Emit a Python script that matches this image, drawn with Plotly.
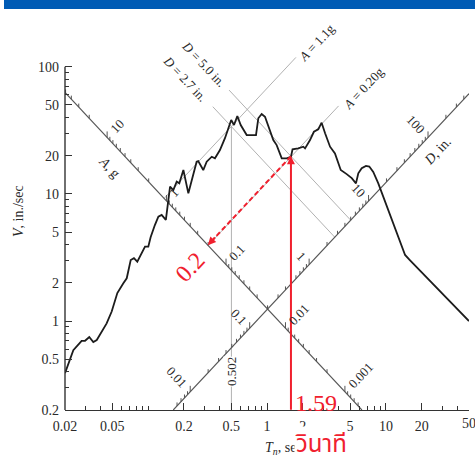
import numpy as np
import plotly.graph_objects as go

G_IN = 386.1          # g in in/s^2
TP = 2 * np.pi

# ---------------- data ----------------
T_curve = [0.02, 0.0235, 0.0276, 0.0295, 0.032, 0.0346, 0.037, 0.040, 0.0448, 0.0494,
           0.0551, 0.0619, 0.0661, 0.0714, 0.076, 0.0811, 0.0854, 0.0942, 0.1004, 0.105,
           0.114, 0.122, 0.130, 0.141, 0.148, 0.153, 0.163, 0.174, 0.183, 0.198,
           0.218, 0.237, 0.256, 0.264, 0.291, 0.311, 0.343, 0.365, 0.402, 0.443,
           0.488, 0.50, 0.528, 0.563, 0.601, 0.675, 0.743, 0.808, 0.845, 0.902,
           0.962, 1.026, 1.13, 1.206, 1.33, 1.464, 1.59, 1.64, 1.83, 2.02,
           2.09, 2.30, 2.48, 2.70, 2.88, 3.08, 3.39, 3.73, 4.17, 4.68,
           5.16, 5.60, 5.86, 6.26, 6.80, 7.25, 7.83, 8.63, 9.50, 10.5,
           11.5, 12.7, 14.5, 15.9, 50]
V_curve = [0.39, 0.59, 0.70, 0.70, 0.75, 0.685, 0.71, 0.81, 0.96, 1.19,
           1.66, 1.98, 2.17, 3.02, 3.12, 2.93, 3.25, 3.85, 3.85, 4.56,
           5.69, 6.62, 6.83, 6.24, 8.95, 11.4, 10.7, 12.5, 12.1, 15.4,
           10.1, 13.6, 17.9, 18.1, 15.4, 17.9, 19.6, 19.05, 22.1, 27.4,
           35.9, 38.1, 34.8, 41.0, 34.8, 29.0, 29.0, 29.0, 39.3, 42.5,
           40.4, 33.8, 26.5, 24.2, 19.05, 19.05, 19.6, 22.4, 22.8, 23.5,
           22.8, 26.5, 30.8, 32.2, 36.3, 30.0, 23.5, 20.8, 15.4, 14.3,
           13.3, 12.1, 14.5, 15.9, 16.6, 16.4, 14.9, 12.1, 9.5, 7.47,
           5.87, 4.61, 3.31, 3.02, 1.0]

x_tick_vals = [0.02, 0.05, 0.2, 0.5, 1, 2, 5, 10, 20, 50]
x_tick_text = ["0.02", "0.05", "0.2", "0.5", "1", "2", "5", "10", "20", "50"]
x_minor_vals = [0.03, 0.04, 0.06, 0.07, 0.08, 0.09, 0.1, 0.3, 0.4, 0.6, 0.7, 0.8, 0.9,
                3, 4, 6, 7, 8, 9, 30, 40]
y_tick_vals = [0.2, 0.5, 1, 2, 5, 10, 20, 50, 100]
y_tick_text = ["0.2", "0.5", "1", "2", "5", "10", "20", "50", "100"]
y_minor_vals = [0.3, 0.4, 0.6, 0.7, 0.8, 0.9, 3, 4, 6, 7, 8, 9, 30, 40, 60, 70, 80, 90]

A_AXIS_D = 0.2      # the "A, g" scale lies on the line D = 0.2 in.
D_AXIS_A = 0.02     # the "D, in." scale lies on the line A = 0.02 g
A_axis_labels = [10, 1, 0.1, 0.01, 0.001]
D_axis_labels = [0.01, 0.1, 1, 10, 100]

ref_D_values = [5.0, 2.7]
ref_D_T_start = [0.48, 0.35]
ref_A_values = [1.1, 0.20]
ref_A_T_end = [1.75, 4.0]
T_peak = 0.502
T_read = 1.59
A_read_text = "0.2"

T_MIN, T_MAX = 0.02, 50
V_MIN, V_MAX = 0.2, 100

# ---------------- helpers ----------------
def v_const_D(D, T):
    return TP * D / np.asarray(T, dtype=float)

def v_const_A(A, T):
    return A * G_IN * np.asarray(T, dtype=float) / TP

def T_cross(D, A):
    return TP * np.sqrt(D / (A * G_IN))

# plot-area geometry (pixels)
L, R, B_PX, PLOT_W, PLOT_H = 65, 6, 52, 404, 356
W, H = 475, 462
PX_PER_DEC_Y = 127.2
Y_LO = np.log10(V_MIN)
Y_HI = Y_LO + PLOT_H / PX_PER_DEC_Y
TOP_PX = H - B_PX - PLOT_H

def px(xp, yp):
    """pixel position -> paper coordinates"""
    return (xp - L) / PLOT_W, (H - B_PX - yp) / PLOT_H

SERIF = "Liberation Serif, Times New Roman, serif"
INK = "#2a2a2a"
GRAY = "#a8a8a8"
AXG = "#555555"
RED = "#f0202e"

fig = go.Figure()

# ---------------- thin reference lines ----------------
for D, t0 in zip(ref_D_values, ref_D_T_start):
    t1 = T_cross(D, D_AXIS_A)
    T = np.array([t0, t1])
    fig.add_trace(go.Scatter(x=T, y=v_const_D(D, T), mode="lines",
                             line=dict(color=GRAY, width=0.9), hoverinfo="skip"))
for A, t1 in zip(ref_A_values, ref_A_T_end):
    t0 = T_cross(A_AXIS_D, A)
    T = np.array([t0, t1])
    fig.add_trace(go.Scatter(x=T, y=v_const_A(A, T), mode="lines",
                             line=dict(color=GRAY, width=0.9), hoverinfo="skip"))
V_peak = float(v_const_D(ref_D_values[1], T_peak))
fig.add_trace(go.Scatter(x=[T_peak, T_peak], y=[V_MIN, V_peak], mode="lines",
                         line=dict(color=GRAY, width=0.9), hoverinfo="skip"))

# ---------------- diagonal scales ----------------
TA = np.array([T_MIN, TP * A_AXIS_D / V_MIN])
fig.add_trace(go.Scatter(x=TA, y=v_const_D(A_AXIS_D, TA), mode="lines",
                         line=dict(color=AXG, width=1.1), hoverinfo="skip"))
TD = np.array([TP * V_MIN / (D_AXIS_A * G_IN), T_MAX])
fig.add_trace(go.Scatter(x=TD, y=v_const_A(D_AXIS_A, TD), mode="lines",
                         line=dict(color=AXG, width=1.1), hoverinfo="skip"))

tx, ty = [], []
maj = 10 ** (6.0 / PX_PER_DEC_Y)
mnr = 10 ** (3.5 / PX_PER_DEC_Y)
for n in range(-4, 3):
    for k in range(1, 10):
        val = k * 10.0 ** n
        # A scale
        t = T_cross(A_AXIS_D, val)
        if TA[0] <= t <= TA[1]:
            v = float(v_const_D(A_AXIS_D, t))
            f = maj if k == 1 else mnr
            tx += [t, t, None]; ty += [v, v * f, None]
        # D scale
        t = T_cross(val, D_AXIS_A)
        if TD[0] <= t <= TD[1]:
            v = float(v_const_A(D_AXIS_A, t))
            f = maj if k == 1 else mnr
            tx += [t, t, None]; ty += [v, v * f, None]
fig.add_trace(go.Scatter(x=tx, y=ty, mode="lines", line=dict(color=AXG, width=1),
                         hoverinfo="skip", connectgaps=False))

# ---------------- spectrum ----------------
fig.add_trace(go.Scatter(x=T_curve, y=V_curve, mode="lines",
                         line=dict(color="#1c1c1c", width=1.8), hoverinfo="skip"))

# ---------------- red reading of A ----------------
V_read = float(v_const_D(ref_D_values[0], T_read))
A_read = TP * V_read / (T_read * G_IN)
T_hit = T_cross(A_AXIS_D, A_read)
V_hit = float(v_const_A(A_read, T_hit))
fig.add_trace(go.Scatter(x=[T_read, T_hit * 1.12], y=[V_read, V_hit * 1.12], mode="lines",
                         line=dict(color=RED, width=2, dash="5px,3px"), hoverinfo="skip"))

ann = []
LOG = np.log10

# arrowheads
ann.append(dict(x=LOG(T_read), y=LOG(V_read), ax=LOG(T_read), ay=LOG(V_MIN) - 0.01,
                xref="x", yref="y", axref="x", ayref="y", text="", showarrow=True,
                arrowhead=2, arrowsize=0.8, arrowwidth=2, arrowcolor=RED, standoff=0))
ann.append(dict(x=LOG(T_hit), y=LOG(V_hit), ax=LOG(T_hit * 1.18), ay=LOG(V_hit * 1.18),
                xref="x", yref="y", axref="x", ayref="y", text="", showarrow=True,
                arrowhead=2, arrowsize=0.8, arrowwidth=2, arrowcolor=RED, standoff=0))

# diagonal scale labels
ANG = np.degrees(np.arctan(PX_PER_DEC_Y / (PLOT_W / np.log10(T_MAX / T_MIN))))
ca, sa = np.cos(np.radians(ANG)), np.sin(np.radians(ANG))
FS = 13

def fmt(v):
    return ("%g" % v)

def txt_w(s, fs):
    return sum(0.5 if c.isdigit() else 0.25 for c in s) * fs

for a in A_axis_labels:
    t = T_cross(A_AXIS_D, a); v = float(v_const_D(A_AXIS_D, t)); s = fmt(a)
    d = 8 + txt_w(s, FS) / 2
    ann.append(dict(x=LOG(t), y=LOG(v), xref="x", yref="y", text=s, showarrow=False,
                    xshift=d * ca, yshift=d * sa, textangle=-ANG,
                    font=dict(family=SERIF, size=FS, color=INK)))
for Dv in D_axis_labels:
    t = T_cross(Dv, D_AXIS_A); v = float(v_const_A(D_AXIS_A, t)); s = fmt(Dv)
    d = 8 + txt_w(s, FS) / 2
    ann.append(dict(x=LOG(t), y=LOG(v), xref="x", yref="y", text=s, showarrow=False,
                    xshift=-d * ca, yshift=d * sa, textangle=ANG,
                    font=dict(family=SERIF, size=FS, color=INK)))

def pann(xp, yp, text, angle=0, size=13, color=INK, family=SERIF, **kw):
    x, y = px(xp, yp)
    d = dict(x=x, y=y, xref="paper", yref="paper", text=text, showarrow=False,
             textangle=angle, font=dict(family=family, size=size, color=color),
             xanchor="center", yanchor="middle")
    d.update(kw)
    ann.append(d)

pann(110, 167, "<i>A</i>, g", angle=ANG, size=14)
pann(437, 151, "<i>D</i>, in.", angle=-ANG, size=14)
pann(203, 64, "<i>D</i> = 5.0 in.", angle=ANG, size=13)
pann(185, 78, "<i>D</i> = 2.7 in.", angle=ANG, size=13)
pann(317, 43, "<i>A</i> = 1.1g", angle=-ANG, size=13)
pann(363, 88, "<i>A</i> = 0.20g", angle=-ANG, size=13)
ann.append(dict(x=LOG(T_peak), y=LOG(0.40), xref="x", yref="y", text="0.502",
                showarrow=False, textangle=-90, bgcolor="white", borderpad=0,
                font=dict(family=SERIF, size=13, color=INK)))

# last x tick label (sits at the very edge of the page, partly cut off there)
ann.append(dict(x=LOG(x_tick_vals[-1]), y=0, xref="x", yref="paper", text=x_tick_text[-1],
                showarrow=False, xanchor="center", yanchor="top", yshift=-4,
                font=dict(family=SERIF, size=14, color=INK)))

# axis titles
pann(18, 211, "<i>V</i>, in./sec", angle=-90, size=14)
pann(284, 448, "<i>T<sub>n</sub></i>, sec", size=14)

# red texts
pann(190, 267, A_read_text, angle=-ANG, size=24, color=RED)
pann(316, 403, "%g" % T_read, size=24, color=RED)
pann(321, 445, "วินาที", size=24, color=RED,
     family="Noto Sans Thai, Noto Serif Thai, Garuda, Loma, Kinnari, Norasi, sans-serif",
     bgcolor="white", borderpad=0)

# ---------------- shapes: top bar and left spine ----------------
bx0, by0 = px(4, 9)
bx1, by1 = px(W + 5, -5)
shapes = [
    dict(type="rect", xref="paper", yref="paper", x0=bx0, x1=bx1, y0=by0, y1=by1,
         fillcolor="#005bb5", line=dict(width=0), layer="above"),
    dict(type="line", xref="paper", yref="paper", x0=0, x1=0, y0=0,
         y1=(np.log10(V_MAX) - Y_LO) / (Y_HI - Y_LO),
         line=dict(color="#333333", width=1.4)),
]

fig.update_layout(
    width=W, height=H,
    margin=dict(l=L, r=R, t=TOP_PX, b=B_PX, pad=0),
    paper_bgcolor="white", plot_bgcolor="white",
    showlegend=False, hovermode=False,
    annotations=ann, shapes=shapes,
    xaxis=dict(type="log", range=[LOG(T_MIN), LOG(T_MAX)], showgrid=False, zeroline=False,
               showline=True, linecolor="#333333", linewidth=1.4,
               tickmode="array", tickvals=x_tick_vals,
               ticktext=x_tick_text[:-1] + [""],
               ticks="inside", ticklen=7, tickwidth=1, tickcolor="#333333",
               ticklabelstandoff=3,
               tickfont=dict(family=SERIF, size=14, color=INK),
               minor=dict(tickmode="array", tickvals=x_minor_vals, ticks="inside",
                          ticklen=4, tickwidth=1, tickcolor="#333333", showgrid=False)),
    yaxis=dict(type="log", range=[Y_LO, Y_HI], showgrid=False, zeroline=False,
               showline=False,
               tickmode="array", tickvals=y_tick_vals, ticktext=y_tick_text,
               ticks="inside", ticklen=7, tickwidth=1, tickcolor="#333333",
               ticklabelstandoff=5,
               tickfont=dict(family=SERIF, size=14, color=INK),
               minor=dict(tickmode="array", tickvals=y_minor_vals, ticks="inside",
                          ticklen=4, tickwidth=1, tickcolor="#333333", showgrid=False)),
)

fig.write_html("out.html", config={"displayModeBar": False},
               post_script="document.body.style.margin='0';document.body.style.overflow='hidden';")
